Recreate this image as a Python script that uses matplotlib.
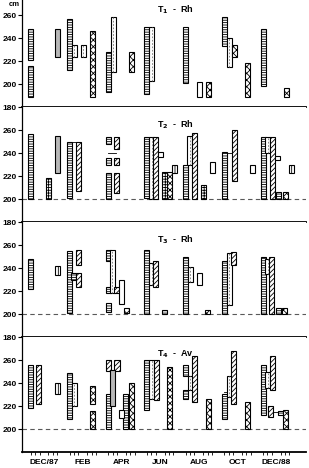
import matplotlib
matplotlib.use("Agg")
import matplotlib.pyplot as plt

plt.rcParams["font.family"] = ["Liberation Sans", "DejaVu Sans"]
plt.rcParams["font.weight"] = "bold"
plt.rcParams["hatch.linewidth"] = 0.6

# x is in months after DEC/87; heights in cm
month_pos = [0, 2, 4, 6, 8, 10, 12]
month_labels = ["DEC/87", "FEB", "APR", "JUN", "AUG", "OCT", "DEC/88"]
panel_titles = [r"T$_\mathbf{1}$  -  Rh", r"T$_\mathbf{2}$  -  Rh",
                r"T$_\mathbf{3}$  -  Rh", r"T$_\mathbf{4}$  -  Av"]

# kinds: L ladder, D dashed, S slash, C chain, G gray, P grid, E empty, W double
t1_x = [-0.72, -0.72, 0.72, 1.30, 1.56, 2.02, 2.49, 3.32, 3.58, 4.52, 5.30,
        5.56, 7.33, 8.04, 8.51, 9.33, 9.57, 9.83, 10.50, 11.36, 12.52]
t1_lo = [221, 189, 224, 212, 224, 224, 189, 193, 211, 211, 191,
         203, 201, 189, 189, 233, 215, 224, 189, 198, 189]
t1_hi = [248, 216, 248, 257, 234, 234, 246, 228, 259, 228, 250,
         250, 250, 202, 202, 259, 240, 234, 218, 248, 197]
t1_kind = ["L", "L", "G", "L", "D", "D", "C", "L", "D", "C", "L",
           "D", "L", "E", "C", "L", "D", "C", "C", "L", "C"]
t1_links = []

t2_x = [-0.71, 0.22, 0.71, 1.30, 1.79, 3.32, 3.32, 3.32, 3.72, 3.72, 3.72,
        5.30, 5.56, 5.78, 6.02, 6.24, 6.50, 6.73, 7.33, 7.53, 7.80, 8.24,
        8.72, 9.31, 9.83, 10.75, 11.34, 11.57, 11.81, 12.07, 12.14, 12.50, 12.78]
t2_lo = [200, 200, 223, 201, 207, 248, 230, 200, 244, 230, 205,
         201, 200, 200, 237, 200, 200, 223, 200, 230, 200, 200,
         223, 200, 216, 223, 200, 240, 200, 234, 200, 200, 223]
t2_hi = [257, 218, 255, 250, 250, 254, 236, 223, 254, 236, 223,
         254, 254, 254, 241, 224, 224, 230, 230, 255, 258, 212,
         232, 241, 260, 230, 254, 254, 254, 238, 206, 206, 230]
t2_kind = ["L", "P", "G", "L", "S", "L", "L", "L", "S", "S", "S",
           "L", "D", "S", "E", "P", "C", "W", "L", "D", "S", "P",
           "W", "L", "S", "W", "L", "D", "S", "E", "L", "C", "W"]
t2_links = [(1.30, 1.79, 250), (3.32, 3.72, 240), (5.78, 6.02, 239),
            (9.31, 9.83, 240), (11.34, 11.81, 247), (11.81, 12.07, 236)]

t3_x = [-0.71, 0.70, 1.30, 1.54, 1.78, 1.78, 3.32, 3.32, 3.32, 3.52, 3.77,
        4.02, 4.25, 5.30, 5.56, 5.78, 6.25, 7.33, 7.55, 8.02, 8.45, 9.31,
        9.57, 9.81, 11.34, 11.55, 11.77, 12.14, 12.45]
t3_lo = [222, 234, 201, 230, 243, 224, 246, 218, 202, 218, 218,
         209, 201, 200, 225, 224, 200, 200, 228, 225, 200, 200,
         208, 243, 200, 235, 200, 200, 200]
t3_hi = [248, 242, 255, 236, 256, 236, 256, 224, 210, 256, 224,
         230, 205, 256, 245, 246, 204, 250, 241, 236, 204, 246,
         253, 254, 250, 248, 250, 205, 205]
t3_kind = ["L", "W", "L", "L", "S", "S", "L", "L", "L", "D", "S",
           "E", "C", "L", "D", "S", "L", "L", "D", "E", "C", "L",
           "D", "S", "L", "D", "S", "L", "C"]
t3_links = [(1.30, 1.78, 233), (3.32, 3.77, 221), (5.30, 5.78, 236)]

t4_x = [-0.71, -0.27, 0.71, 1.30, 1.56, 2.49, 2.49, 3.32, 3.32, 3.52, 3.77,
        4.01, 4.23, 4.51, 5.30, 5.56, 5.82, 6.50, 7.30, 7.30, 7.55, 7.79,
        8.49, 9.31, 9.57, 9.79, 10.50, 11.34, 11.57, 11.81, 11.73, 12.24, 12.50]
t4_lo = [218, 222, 231, 209, 220, 222, 200, 251, 200, 220, 251,
         210, 200, 200, 217, 226, 225, 200, 246, 226, 234, 224,
         200, 209, 228, 222, 200, 212, 236, 234, 211, 212, 200]
t4_hi = [256, 256, 240, 249, 240, 238, 216, 260, 231, 252, 260,
         217, 231, 240, 260, 260, 260, 254, 256, 234, 246, 264,
         226, 231, 246, 268, 224, 256, 250, 264, 220, 216, 217]
t4_kind = ["L", "S", "W", "L", "D", "C", "C", "S", "L", "G", "S",
           "E", "L", "C", "L", "D", "S", "C", "L", "L", "D", "S",
           "C", "L", "D", "S", "C", "L", "D", "S", "S", "L", "C"]
t4_links = [(1.30, 1.56, 230), (3.32, 3.77, 252), (9.31, 9.79, 232),
            (11.34, 11.81, 244), (11.73, 12.24, 215)]

panels = [
    (t1_x, t1_lo, t1_hi, t1_kind, t1_links),
    (t2_x, t2_lo, t2_hi, t2_kind, t2_links),
    (t3_x, t3_lo, t3_hi, t3_kind, t3_links),
    (t4_x, t4_lo, t4_hi, t4_kind, t4_links),
]

styles = {
    "L": dict(facecolor="white", hatch="-------"),
    "D": dict(facecolor="white", hatch=None),
    "S": dict(facecolor="white", hatch="///////"),
    "C": dict(facecolor="white", hatch="xxxxx"),
    "G": dict(facecolor="0.72", hatch=None),
    "P": dict(facecolor="white", hatch="++++++"),
    "E": dict(facecolor="white", hatch=None),
    "W": dict(facecolor="white", hatch="|"),
}

W, H = 309, 468
PXCM = 1.145
bottoms_px = [107, 222, 337, 452]
heights_px = [107, 115, 115, 115]
bar_w = 0.26

fig = plt.figure(figsize=(W / 100, H / 100), dpi=100)

for i, (xs, lo, hi, kind, links) in enumerate(panels):
    ax = fig.add_axes([22 / W, 1 - bottoms_px[i] / H, 284 / W, heights_px[i] / H])
    ax.set_xlim(-1.14, 13.54)
    ax.set_ylim(180, 180 + heights_px[i] / PXCM)

    if i > 0:
        ax.axhline(200, color="0.35", lw=0.8, ls=(0, (4, 3)), zorder=1)

    for x0, x1, y in links:
        ax.plot([x0, x1], [y, y], color="black", lw=0.6, zorder=2)

    for code, st in styles.items():
        idx = [j for j, k in enumerate(kind) if k == code]
        if not idx:
            continue
        bx = [xs[j] for j in idx]
        bl = [lo[j] for j in idx]
        bh = [hi[j] - lo[j] for j in idx]
        ax.bar(bx, bh, bottom=bl, width=bar_w, facecolor=st["facecolor"],
               edgecolor="black", linewidth=0.8, hatch=st["hatch"], zorder=3)
        if code == "D":
            ax.vlines(bx, bl, [hi[j] for j in idx], colors="0.45",
                      linestyles=(0, (2, 2)), lw=0.6, zorder=4)

    for s in ("top", "right"):
        ax.spines[s].set_visible(False)
    ax.spines["left"].set_linewidth(0.9)
    ax.spines["bottom"].set_linewidth(1.3)

    yt = [180, 200, 220, 240, 260] if i < 3 else [200, 220, 240, 260]
    ax.set_yticks(yt)
    ax.set_yticklabels([str(v) for v in yt], fontsize=6, fontweight="bold")
    ax.tick_params(axis="y", length=3, width=0.8, pad=1)

    ax.set_xticks(month_pos)
    minor = [m + (t - 3) * 0.227 for m in month_pos for t in range(7)]
    ax.set_xticks(minor, minor=True)
    ax.tick_params(axis="x", which="major", length=0, pad=5)
    ax.tick_params(axis="x", which="minor", length=2.5, width=0.6)
    if i == 3:
        ax.set_xticklabels(month_labels, fontsize=6, fontweight="bold")
    else:
        ax.set_xticklabels([])

    ax.text(6.77, 265, panel_titles[i], ha="center", va="center",
            fontsize=6.5, fontweight="bold")

fig.text(14 / W, 1 - 4 / H, "cm", ha="center", va="center",
         fontsize=5.5, fontweight="bold")

fig.savefig("out.png", dpi=100)
